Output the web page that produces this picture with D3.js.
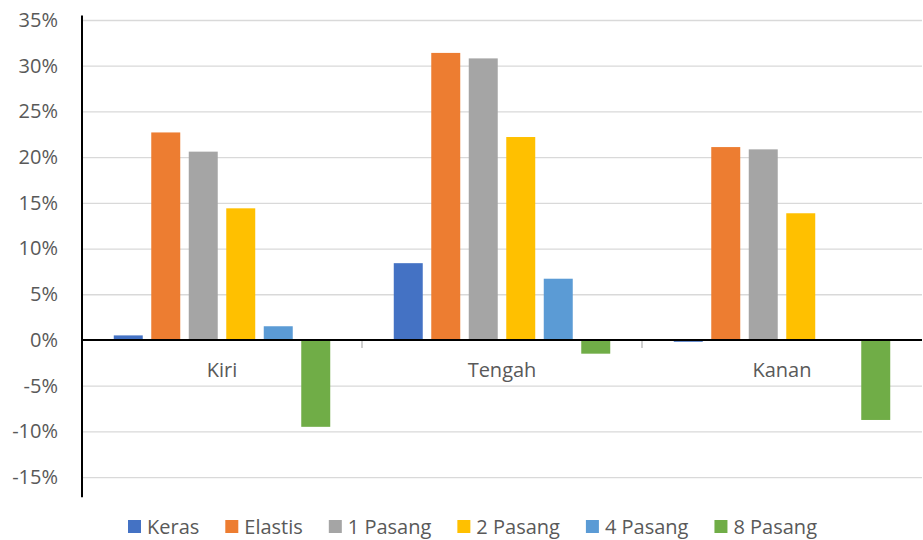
<!DOCTYPE html>
<html>
<head>
<meta charset="utf-8">
<script src="https://cdn.jsdelivr.net/npm/d3@7"></script>
<style>
  body { margin: 0; background: #fff; }
  text { font-family: "Open Sans", sans-serif; fill: #595959; }
</style>
</head>
<body>
<svg id="chart"></svg>
<script>
var screen = {width: 923, height: 540};
var margins = {top: 20, right: 1, bottom: 63, left: 82};

var categories = ["Kiri", "Tengah", "Kanan"];
var series = ["Keras", "Elastis", "1 Pasang", "2 Pasang", "4 Pasang", "8 Pasang"];
var colors = ["#4472C4", "#ED7D31", "#A5A5A5", "#FFC000", "#5B9BD5", "#70AD47"];

// values per series, in order Kiri, Tengah, Kanan
var keras    = [0.005, 0.084, -0.002];
var elastis  = [0.227, 0.314, 0.211];
var pasang1  = [0.206, 0.308, 0.2085];
var pasang2  = [0.144, 0.222, 0.1386];
var pasang4  = [0.015, 0.067, 0];
var pasang8  = [-0.095, -0.015, -0.0875];

var yTicks = [-0.15, -0.10, -0.05, 0, 0.05, 0.10, 0.15, 0.20, 0.25, 0.30, 0.35];

var seriesValues = [keras, elastis, pasang1, pasang2, pasang4, pasang8];

var data = [];
categories.forEach(function(c, ci) {
    series.forEach(function(s, si) {
        data.push({cat: c, series: s, value: seriesValues[si][ci]});
    });
});

var width = screen.width - margins.left - margins.right;
var height = 457.1;

var svg = d3.select("#chart")
    .attr("width", screen.width)
    .attr("height", screen.height);

var g = svg.append("g")
    .attr("transform", "translate(" + margins.left + "," + margins.top + ")");

var xScale = d3.scaleBand().domain(categories).range([0, width]).padding(0);
var xInner = d3.scaleBand().domain(series).range([0, xScale.bandwidth()])
    .paddingInner(0.227).paddingOuter(0.847);
var yScale = d3.scaleLinear().domain([-0.15, 0.35]).range([height, 0]);
var cScale = d3.scaleOrdinal().domain(series).range(colors);

// gridlines + tick labels (plain hyphen for negatives, like the original)
var pct = d3.format(".0%");
var yAxis = d3.axisLeft(yScale)
    .tickValues(yTicks)
    .tickSize(-width)
    .tickPadding(24)
    .tickFormat(function(d) { return pct(d).replace("\u2212", "-"); });

var ya = g.append("g").call(yAxis);
ya.select(".domain").remove();
ya.selectAll(".tick line").attr("stroke", "#d9d9d9").attr("stroke-width", 1.3);
ya.selectAll(".tick text")
    .style("font-size", "20px")
    .style("font-family", "'Open Sans', sans-serif")
    .attr("fill", "#595959");

// bars
g.append("g").selectAll("rect")
    .data(data)
    .enter()
    .append("rect")
    .attr("x", function(d) { return xScale(d.cat) + xInner(d.series); })
    .attr("width", xInner.bandwidth())
    .attr("y", function(d) { return yScale(Math.max(0, d.value)); })
    .attr("height", function(d) { return Math.abs(yScale(d.value) - yScale(0)); })
    .attr("fill", function(d) { return cScale(d.series); });

// category ticks
g.append("g").selectAll("line")
    .data(categories.slice(1))
    .enter()
    .append("line")
    .attr("x1", function(d) { return xScale(d); })
    .attr("x2", function(d) { return xScale(d); })
    .attr("y1", yScale(0))
    .attr("y2", yScale(0) + 8)
    .attr("stroke", "#bfbfbf")
    .attr("stroke-width", 1.5);

// zero line
g.append("line")
    .attr("x1", 0).attr("x2", width)
    .attr("y1", yScale(0)).attr("y2", yScale(0))
    .attr("stroke", "#000").attr("stroke-width", 2);

// y axis line
g.append("line")
    .attr("x1", 0).attr("x2", 0)
    .attr("y1", yScale(0.355)).attr("y2", yScale(-0.172))
    .attr("stroke", "#000").attr("stroke-width", 2);

// category labels
g.append("g").selectAll("text")
    .data(categories)
    .enter()
    .append("text")
    .attr("x", function(d) { return xScale(d) + xScale.bandwidth() / 2; })
    .attr("y", yScale(0) + 37)
    .attr("text-anchor", "middle")
    .style("font-size", "20px")
    .text(function(d) { return d; });

// legend
var legend = svg.append("g").attr("id", "legend");
var lx = 128;
series.forEach(function(s) {
    var item = legend.append("g").attr("transform", "translate(" + lx + ",520)");
    item.append("rect").attr("width", 13).attr("height", 13).attr("fill", cScale(s));
    var t = item.append("text")
        .attr("x", 19)
        .attr("y", 14)
        .style("font-size", "20px")
        .text(s);
    lx += 19 + t.node().getComputedTextLength() + 26;
});
</script>
</body>
</html>
